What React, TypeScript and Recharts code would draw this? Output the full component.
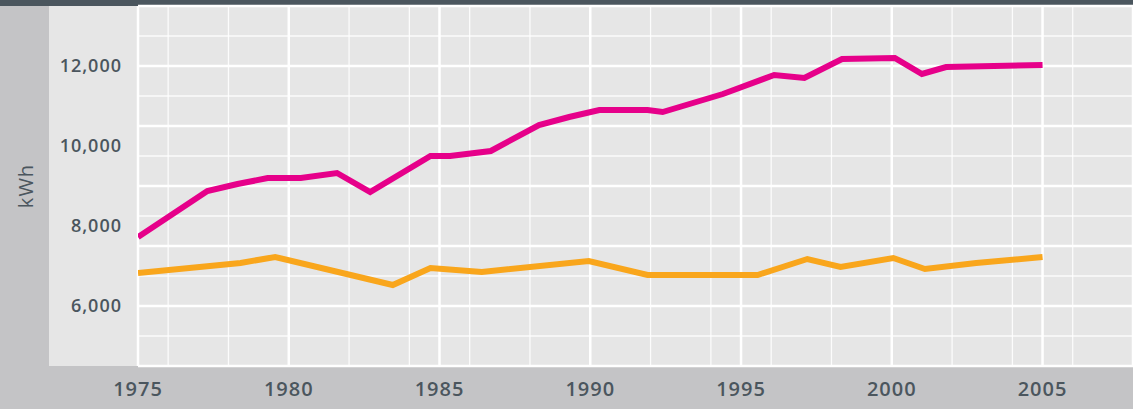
import React from 'react';
import { LineChart, Line, XAxis, YAxis, CartesianGrid } from 'recharts';

// Pink series (higher consumption)
const pinkYears = [1975.0, 1977.3, 1978.3, 1979.3, 1980.4, 1981.6, 1982.7, 1984.7, 1985.35, 1986.7, 1988.3, 1989.3, 1990.3, 1991.9, 1992.4, 1994.4, 1996.1, 1997.1, 1998.35, 2000.1, 2001.0, 2001.8, 2005.0];
const pinkValues = [7725, 8875, 9050, 9200, 9200, 9325, 8850, 9750, 9750, 9875, 10525, 10725, 10900, 10900, 10850, 11300, 11775, 11700, 12175, 12200, 11800, 11975, 12025];

// Orange series (lower consumption)
const orangeYears = [1975.0, 1978.4, 1979.55, 1983.45, 1984.7, 1986.4, 1989.95, 1991.9, 1995.55, 1997.2, 1998.3, 2000.05, 2001.1, 2002.8, 2005.0];
const orangeValues = [6825, 7075, 7225, 6525, 6950, 6850, 7125, 6775, 6775, 7175, 6975, 7200, 6925, 7075, 7225];

// Axis ticks / labels
const xLabelTicks = [1975, 1980, 1985, 1990, 1995, 2000, 2005];
const xMinorTicks = [1975, 1976, 1977, 1978, 1979, 1980, 1981, 1982, 1983, 1984, 1985, 1986, 1987, 1988, 1989, 1990, 1991, 1992, 1993, 1994, 1995, 1996, 1997, 1998, 1999, 2000, 2001, 2002, 2003, 2004, 2005, 2006, 2007, 2008];
const yLabelTicks = [6000, 8000, 10000, 12000];
const yMinorTicks = [4500, 5250, 6000, 6750, 7500, 8250, 9000, 9750, 10500, 11250, 12000, 12750, 13500];
const yMajorTicks = [4500, 6000, 7500, 9000, 10500, 12000, 13500];
const xDomain = [1975, 2008];
const yDomain = [4500, 13500];
const yLabel = 'kWh';

const pinkData = pinkYears.map((year, i) => ({ year, v: pinkValues[i] }));
const orangeData = orangeYears.map((year, i) => ({ year, v: orangeValues[i] }));

const W = 1133;
const H = 409;
const TEXT = '#4b565e';
const FONT = '"Open Sans", sans-serif';

export default function App() {
  return (
    <div style={{ position: 'fixed', left: 0, top: 0, width: W, height: H, background: '#c4c4c6', overflow: 'hidden' }}>
      <div style={{ position: 'absolute', left: 0, top: 0, width: W, height: 6, background: '#4b565e' }} />
      <div style={{ position: 'absolute', left: 49, top: 6, width: W - 49, height: 360, background: '#e6e6e6' }} />
      <div
        style={{
          position: 'absolute',
          left: 25,
          top: 186,
          transform: 'translate(-50%, -50%) rotate(-90deg)',
          fontFamily: FONT,
          fontSize: 20,
          fontWeight: 500,
          letterSpacing: 1,
          color: TEXT,
          whiteSpace: 'nowrap',
        }}
      >
        {yLabel}
      </div>
      <div style={{ position: 'absolute', left: 0, top: 0 }}>
        <LineChart width={W} height={H} margin={{ top: 6, right: 0, bottom: 0, left: 0 }}>
          <XAxis
            xAxisId="main"
            type="number"
            dataKey="year"
            domain={xDomain}
            ticks={xLabelTicks}
            allowDataOverflow
            axisLine={false}
            tickLine={false}
            tickSize={0}
            tickMargin={16}
            height={43}
            tick={{ fill: TEXT, fontSize: 20, fontFamily: FONT, fontWeight: 600, letterSpacing: 1 }}
          />
          <XAxis xAxisId="minor" type="number" dataKey="year" domain={xDomain} ticks={xMinorTicks} hide allowDataOverflow />
          <YAxis
            yAxisId="main"
            type="number"
            domain={yDomain}
            ticks={yLabelTicks}
            allowDataOverflow
            axisLine={false}
            tickLine={false}
            tickSize={0}
            tickMargin={16}
            width={138}
            tickFormatter={(v: number) => v.toLocaleString('en-US')}
            tick={{ fill: TEXT, fontSize: 18, fontFamily: FONT, fontWeight: 600, letterSpacing: 1 }}
          />
          <YAxis yAxisId="minor" type="number" domain={yDomain} ticks={yMinorTicks} hide allowDataOverflow />
          <YAxis yAxisId="major" type="number" domain={yDomain} ticks={yMajorTicks} hide allowDataOverflow />
          <CartesianGrid xAxisId="minor" yAxisId="minor" stroke="#ffffff" strokeOpacity={0.85} strokeWidth={1.3} />
          <CartesianGrid xAxisId="main" yAxisId="major" stroke="#ffffff" strokeWidth={2.5} />
          <Line
            xAxisId="main"
            yAxisId="main"
            data={orangeData}
            dataKey="v"
            type="linear"
            stroke="#f9a61c"
            strokeWidth={6}
            dot={false}
            activeDot={false}
            isAnimationActive={false}
          />
          <Line
            xAxisId="main"
            yAxisId="main"
            data={pinkData}
            dataKey="v"
            type="linear"
            stroke="#e6008a"
            strokeWidth={6}
            dot={false}
            activeDot={false}
            isAnimationActive={false}
          />
        </LineChart>
      </div>
    </div>
  );
}
